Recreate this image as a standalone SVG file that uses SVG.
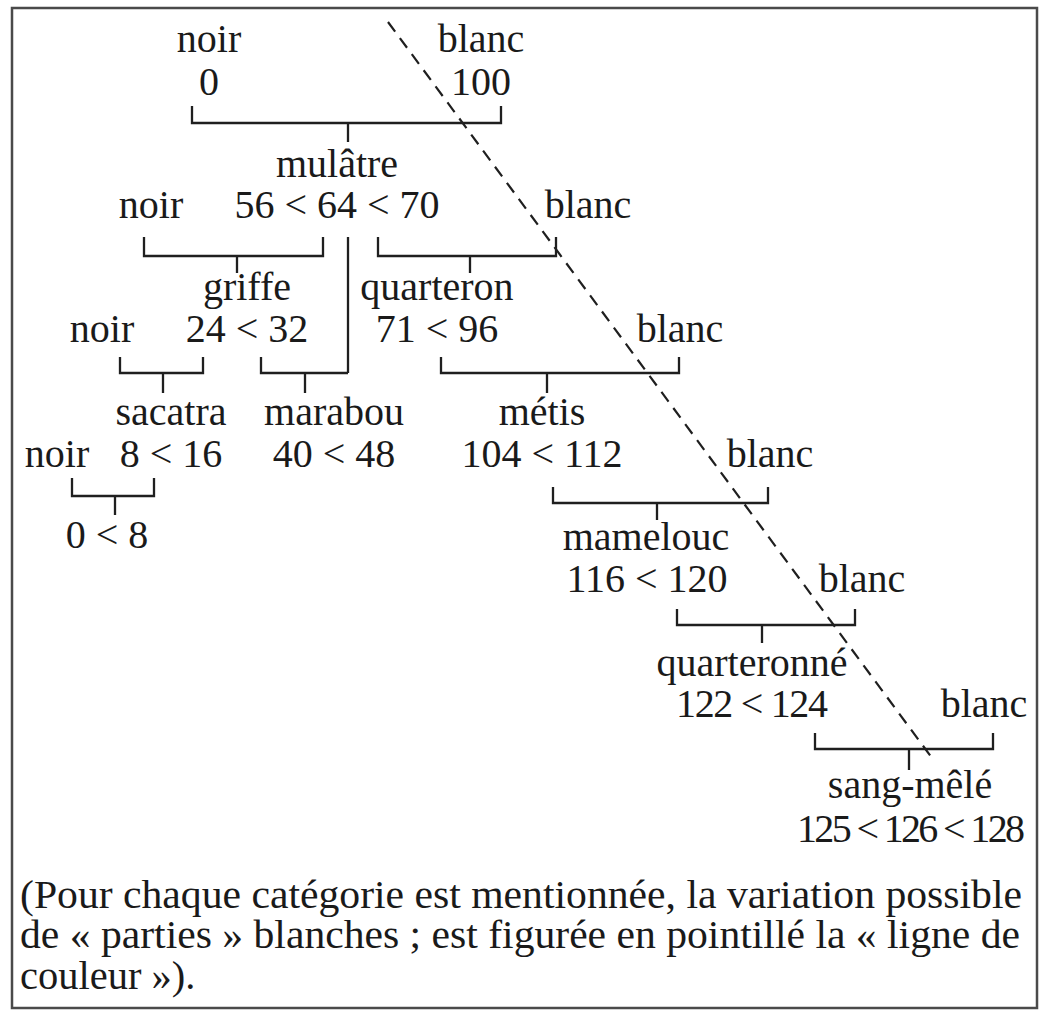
<svg xmlns="http://www.w3.org/2000/svg" width="1042" height="1011" viewBox="0 0 1042 1011">
<style>
text{font-family:"Liberation Serif","Times New Roman",serif;font-size:40px;fill:#1a1a1a;text-anchor:middle}
.cap{font-size:40.5px;text-anchor:start}
.br{fill:none;stroke:#1f1f1f;stroke-width:2.3}
.color-line{fill:none;stroke:#1f1f1f;stroke-width:2.2;stroke-dasharray:12 8}
</style>
<rect x="0" y="0" width="1042" height="1011" fill="#ffffff"/>
<rect id="frame" x="12" y="8" width="1025" height="1000" fill="none" stroke="#4a4a4a" stroke-width="2.5"/>
<g id="connectors">
<path class="br" d="M192,106 V123 H501 V106 M348,123 V142"/>
<path class="br" d="M144,237 V256 H323 V237 M237,256 V273"/>
<path class="br" d="M348,237 V373"/>
<path class="br" d="M378,237 V256 H556 V237 M470,256 V273"/>
<path class="br" d="M120,357 V373 H203 V357 M163,373 V393"/>
<path class="br" d="M261,357 V373 H348 M305,373 V393"/>
<path class="br" d="M441,357 V373 H679 V357 M547,373 V393"/>
<path class="br" d="M72,478 V496 H154 V478 M115,496 V515"/>
<path class="br" d="M553,487 V503 H768 V487 M657,503 V520"/>
<path class="br" d="M677,609 V625 H855 V609 M762,625 V643"/>
<path class="br" d="M815,733 V749 H993 V733 M909,749 V770"/>
<path id="ligne-de-couleur" class="color-line" d="M388,22 L932,758"/>
</g>
<g id="noir-0"><text x="209" y="52">noir</text><text x="209" y="95">0</text></g>
<g id="blanc-100"><text x="481" y="52">blanc</text><text x="481" y="95">100</text></g>
<g id="mulatre"><text x="337" y="177">mulâtre</text><text x="337" y="218">56 &lt; 64 &lt; 70</text></g>
<g id="noir-2"><text x="151" y="218">noir</text></g>
<g id="blanc-2"><text x="588" y="218">blanc</text></g>
<g id="griffe"><text x="247" y="300">griffe</text><text x="247" y="342">24 &lt; 32</text></g>
<g id="noir-3"><text x="102" y="342">noir</text></g>
<g id="quarteron"><text x="437" y="300">quarteron</text><text x="437" y="342">71 &lt; 96</text></g>
<g id="blanc-3"><text x="680" y="342">blanc</text></g>
<g id="sacatra"><text x="171" y="425">sacatra</text><text x="171" y="467">8 &lt; 16</text></g>
<g id="noir-4"><text x="57" y="467">noir</text></g>
<g id="marabou"><text x="334" y="425">marabou</text><text x="334" y="467">40 &lt; 48</text></g>
<g id="metis"><text x="542" y="425">métis</text><text x="542" y="467">104 &lt; 112</text></g>
<g id="blanc-4"><text x="770" y="467">blanc</text></g>
<g id="zero-huit"><text x="107" y="548">0 &lt; 8</text></g>
<g id="mamelouc"><text x="646" y="550">mamelouc</text><text x="647" y="592">116 &lt; 120</text></g>
<g id="blanc-5"><text x="862" y="592">blanc</text></g>
<g id="quarteronne"><text x="752" y="676">quarteronné</text><text x="752" y="717" textLength="152" lengthAdjust="spacing">122 &lt; 124</text></g>
<g id="blanc-6"><text x="984" y="717">blanc</text></g>
<g id="sang-mele"><text x="910" y="798">sang-mêlé</text><text x="911" y="842" textLength="228" lengthAdjust="spacing">125 &lt; 126 &lt; 128</text></g>
<g id="caption">
<text class="cap" x="20" y="908" textLength="1002" lengthAdjust="spacingAndGlyphs">(Pour chaque catégorie est mentionnée, la variation possible</text>
<text class="cap" x="20" y="948" textLength="1000" lengthAdjust="spacingAndGlyphs">de « parties » blanches ; est figurée en pointillé la « ligne de</text>
<text class="cap" x="20" y="989">couleur »).</text>
</g>
</svg>
